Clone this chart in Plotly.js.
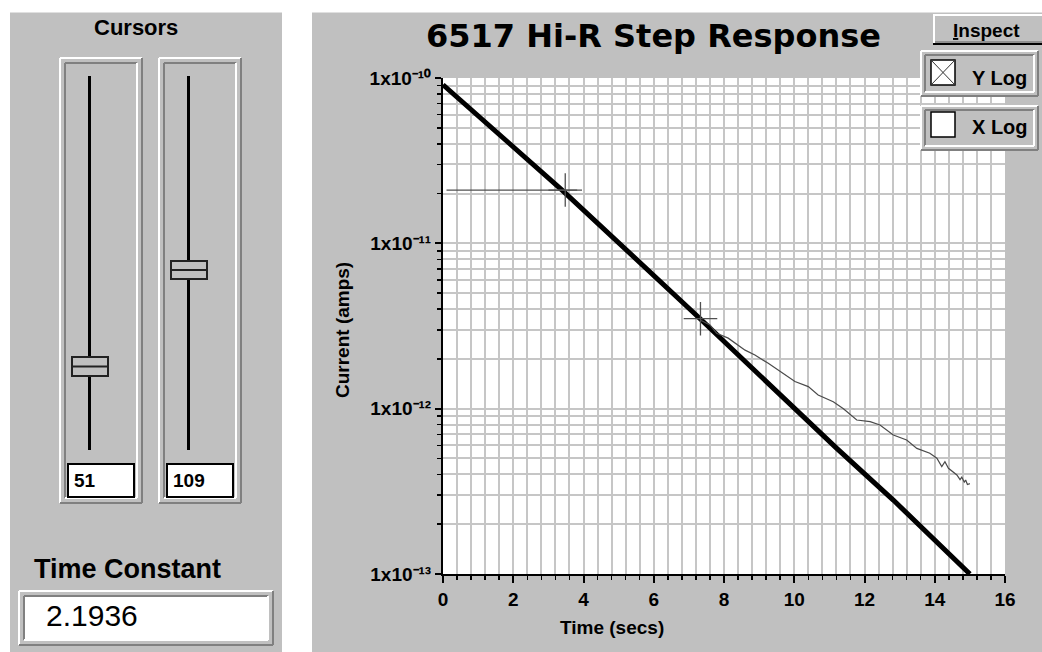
<!DOCTYPE html>
<html>
<head>
<meta charset="utf-8">
<script src="https://cdn.plot.ly/plotly-3.0.1.min.js"></script>
<style>
html,body{margin:0;padding:0;background:#ffffff;}
#chart{width:1042px;height:652px;}
</style>
</head>
<body>
<div id="chart"></div>
<script>
// ---------------- data ----------------
const fitTime    = [0, 3.39, 7.32, 8.17, 11.21, 12.82, 15.0];
const fitCurrent = [9.1e-11, 2.1e-11, 3.5e-12, 2.35e-12, 5.75e-13, 2.8e-13, 1.0e-13];

const dataTime    = [7.32, 7.60, 7.79, 8.12, 8.60, 8.88, 9.26, 9.74, 10.02, 10.40, 10.68, 11.11, 11.40, 11.78, 12.16, 12.44, 12.82, 13.20, 13.49, 13.86, 14.06, 14.20, 14.29, 14.39, 14.63, 14.72, 14.77, 14.84, 14.88, 14.93, 15.0];
const dataCurrent = [3.44e-12, 3.21e-12, 2.86e-12, 2.67e-12, 2.26e-12, 2.11e-12, 1.88e-12, 1.60e-12, 1.46e-12, 1.36e-12, 1.21e-12, 1.10e-12, 1.00e-12, 8.54e-13, 8.34e-13, 7.96e-13, 6.93e-13, 6.46e-13, 5.75e-13, 5.37e-13, 5.01e-13, 4.46e-13, 4.78e-13, 4.36e-13, 3.97e-13, 3.72e-13, 3.85e-13, 3.60e-13, 3.70e-13, 3.48e-13, 3.52e-13];

const cursorTime    = [3.48, 7.33];
const cursorCurrent = [2.1e-11, 3.5e-12];
const cursorLineTime    = [0.1, 3.82];
const cursorLineCurrent = [2.1e-11, 2.1e-11];

const xTickVals = [0, 2, 4, 6, 8, 10, 12, 14, 16];
const yTickVals = [1e-13, 1e-12, 1e-11, 1e-10];
const yTickText = ['1x10\u207B\u00B9\u00B3', '1x10\u207B\u00B9\u00B2', '1x10\u207B\u00B9\u00B9', '1x10\u207B\u00B9\u2070'];

const chartTitle = '6517 Hi-R Step Response';
const xTitle = 'Time (secs)';
const yTitle = 'Current (amps)';
const cursorsLabel = 'Cursors';
const cursorIndices = ['51', '109'];
const timeConstantLabel = 'Time Constant';
const timeConstantValue = '2.1936';
const buttonLabels = ['<u>I</u>nspect', 'Y Log', 'X Log'];

// ---------------- geometry helpers (pixel -> paper) ----------------
const L = 443, R = 1005, T = 78, B = 574;
const W = R - L, H = B - T;
const px = x => (x - L) / W;
const py = y => (B - y) / H;
const GRAY = '#c0c0c0', DARK = '#808080', WHITE = '#ffffff', BLACK = '#000000';
const SANS = 'Liberation Sans, Arial, sans-serif';

const shapes = [];
function rect(x0, y0, x1, y1, fill, lc, lw) {
  shapes.push({type: 'rect', xref: 'paper', yref: 'paper', layer: 'above',
    x0: px(x0), x1: px(x1), y0: py(y1), y1: py(y0),
    fillcolor: fill, line: {color: lc || fill, width: lw || 0}});
}
function seg(x0, y0, x1, y1, color, w) {
  shapes.push({type: 'line', xref: 'paper', yref: 'paper', layer: 'above',
    x0: px(x0), x1: px(x1), y0: py(y0), y1: py(y1),
    line: {color: color, width: w}});
}
function groove(x0, y0, x1, y1, d) {
  d = d || 4;
  seg(x0, y0, x1, y0, WHITE, 2); seg(x0, y0, x0, y1, WHITE, 2);
  seg(x0, y1, x1, y1, DARK, 2);  seg(x1, y0, x1, y1, DARK, 2);
  seg(x0 + d, y0 + d, x1 - d, y0 + d, DARK, 2); seg(x0 + d, y0 + d, x0 + d, y1 - d, DARK, 2);
  seg(x0 + d, y1 - d, x1 - d, y1 - d, WHITE, 2); seg(x1 - d, y0 + d, x1 - d, y1 - d, WHITE, 2);
}

const annotations = [];
function ann(text, x, y, size, opts) {
  opts = opts || {};
  annotations.push(Object.assign({
    text: text, xref: 'paper', yref: 'paper', x: px(x), y: py(y),
    xanchor: 'center', yanchor: 'middle', showarrow: false,
    font: {family: SANS, size: size, color: BLACK, weight: 'bold'}
  }, opts));
}

// white gaps around the two grey panels
rect(0, 0, 10, 652, WHITE);
rect(282, 0, 312, 652, WHITE);
rect(0, 0, 1042, 12.5, WHITE);

// ---------------- left panel ----------------
ann(cursorsLabel, 136, 28, 22);
const sliderFrames = [[60, 58, 142, 503, 89.5, 357, 376, 68, 134], [159, 58, 241, 503, 188.5, 261, 279, 167, 233]];
sliderFrames.forEach((f, i) => {
  groove(f[0], f[1], f[2], f[3], 5);
  seg(f[4], 76, f[4], 450, BLACK, 3);            // track
  rect(f[4] - 17.5, f[5], f[4] + 18.5, f[6], GRAY, '#222222', 2);  // thumb
  seg(f[4] - 17.5, (f[5] + f[6]) / 2, f[4] + 18.5, (f[5] + f[6]) / 2, '#222222', 2);
  rect(f[7], 464, f[8], 497, WHITE, BLACK, 2);   // index box
  ann(cursorIndices[i], f[7] + 4, 480, 19, {xanchor: 'left'});
});
ann(timeConstantLabel, 127.5, 569, 27);
groove(19, 591, 273, 645, 5);
rect(25, 597, 268, 640, WHITE);
ann(timeConstantValue, 44, 615, 30, {xanchor: 'left', font: {family: SANS, size: 30, color: BLACK, weight: 'normal'}});

// ---------------- right side buttons ----------------
rect(933, 14, 1042, 45, GRAY);
seg(933, 15, 1042, 15, WHITE, 2); seg(934, 14, 934, 45, WHITE, 2);
seg(933, 44, 1042, 44, BLACK, 2); seg(935, 42, 1042, 42, DARK, 1.5);
ann(buttonLabels[0], 986, 30, 19);

rect(921, 51, 1038, 96, GRAY); groove(921, 51, 1038, 96, 4);
rect(931, 60, 955, 85, WHITE, BLACK, 1.5);
seg(931, 60, 955, 85, '#333333', 1); seg(955, 60, 931, 85, '#333333', 1);
ann(buttonLabels[1], 999.5, 78, 20);

rect(921, 106, 1038, 150, GRAY); groove(921, 106, 1038, 150, 4);
rect(931, 112, 955, 137, WHITE, BLACK, 1.5);
ann(buttonLabels[2], 999.5, 127, 20);

// axis titles
ann(xTitle, 612, 627, 19);
ann(yTitle, 342, 330, 19, {textangle: -90});

// ---------------- traces ----------------
const traces = [
  {x: fitTime, y: fitCurrent, type: 'scatter', mode: 'lines', line: {color: BLACK, width: 5}, hoverinfo: 'skip'},
  {x: dataTime, y: dataCurrent, type: 'scatter', mode: 'lines', line: {color: '#4a4a4a', width: 1.2}, hoverinfo: 'skip'},
  {x: cursorLineTime, y: cursorLineCurrent, type: 'scatter', mode: 'lines', line: {color: '#505050', width: 1.2}, hoverinfo: 'skip'},
  {x: cursorTime, y: cursorCurrent, type: 'scatter', mode: 'markers',
   marker: {symbol: 'cross-thin', size: 24, color: '#505050', line: {color: '#505050', width: 1.3}}, hoverinfo: 'skip'}
];

const minorY = [];
[-13, -12, -11].forEach(e => { for (let k = 2; k <= 9; k++) minorY.push(k * Math.pow(10, e)); });

const GRID = '#c6c6c6';
const layout = {
  width: 1042, height: 652,
  margin: {l: L, r: 1042 - R, t: T, b: 652 - B, pad: 0},
  paper_bgcolor: GRAY, plot_bgcolor: WHITE,
  showlegend: false, hovermode: false,
  title: {text: chartTitle, x: 653.5 / 1042, xanchor: 'center', y: 1 - 36 / 652, yanchor: 'middle',
          font: {family: 'DejaVu Sans, sans-serif', size: 32, color: BLACK, weight: 'bold'}},
  xaxis: {range: [0, 16], tickmode: 'array', tickvals: xTickVals, ticks: 'outside', ticklen: 7, tickwidth: 2, tickcolor: BLACK,
          showline: true, linecolor: BLACK, linewidth: 2, zeroline: false,
          showgrid: true, gridcolor: GRID, gridwidth: 2,
          tickfont: {family: SANS, size: 19, color: BLACK, weight: 'bold'},
          minor: {dtick: 0.4, tick0: 0, ticks: 'outside', ticklen: 4, tickwidth: 1.5, tickcolor: BLACK, showgrid: true, gridcolor: GRID, gridwidth: 2},
          fixedrange: true},
  yaxis: {type: 'log', range: [-13, -10], tickmode: 'array', tickvals: yTickVals, ticktext: yTickText,
          ticks: 'outside', ticklen: 6, tickwidth: 2, tickcolor: BLACK,
          showline: true, linecolor: BLACK, linewidth: 2, zeroline: false,
          showgrid: true, gridcolor: GRID, gridwidth: 2,
          tickfont: {family: SANS, size: 19, color: BLACK, weight: 'bold'},
          minor: {tickmode: 'array', tickvals: minorY, ticks: 'outside', ticklen: 4, tickwidth: 1.5, tickcolor: BLACK, showgrid: true, gridcolor: GRID, gridwidth: 2},
          fixedrange: true},
  shapes: shapes,
  annotations: annotations
};

Plotly.newPlot('chart', traces, layout, {displayModeBar: false, staticPlot: true});
</script>
</body>
</html>
